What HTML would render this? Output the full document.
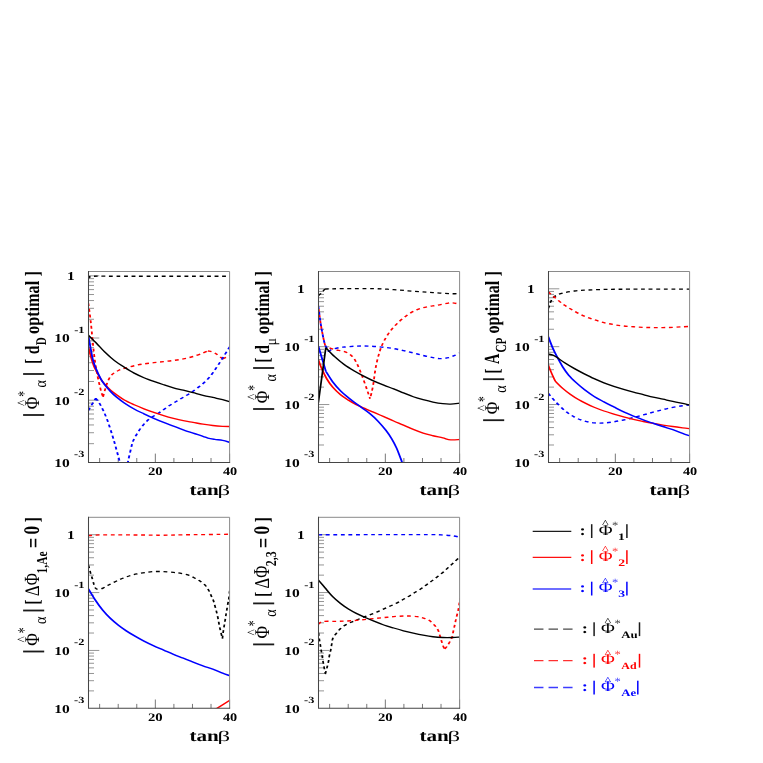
<!DOCTYPE html>
<html><head><meta charset="utf-8"><title>plot</title>
<style>html,body{margin:0;padding:0;background:#fff;}body{width:763px;height:763px;overflow:hidden;position:relative;font-family:"Liberation Serif",serif;}svg{display:block;text-rendering:geometricPrecision}</style>
</head><body>
<svg width="763" height="763" viewBox="0 0 763 763" style="position:absolute;left:0;top:0">
<rect x="0" y="0" width="763" height="763" fill="#ffffff"/>
<defs>
<clipPath id="cp1"><rect x="66.38" y="271.50" width="105.83" height="190.90"/></clipPath>
<clipPath id="cp2"><rect x="238.88" y="271.50" width="105.83" height="190.90"/></clipPath>
<clipPath id="cp3"><rect x="411.39" y="271.50" width="105.83" height="190.90"/></clipPath>
<clipPath id="cp4"><rect x="66.38" y="517.30" width="105.83" height="191.00"/></clipPath>
<clipPath id="cp5"><rect x="238.88" y="517.30" width="105.83" height="191.00"/></clipPath>
</defs>
<path d="M88.50 275.80h10.8M88.50 338.00h10.8M88.50 319.28h5.5M88.50 308.32h5.5M88.50 300.55h5.5M88.50 294.52h5.5M88.50 289.60h5.5M88.50 285.43h5.5M88.50 281.83h5.5M88.50 278.65h5.5M88.50 400.20h10.8M88.50 381.48h5.5M88.50 370.52h5.5M88.50 362.75h5.5M88.50 356.72h5.5M88.50 351.80h5.5M88.50 347.63h5.5M88.50 344.03h5.5M88.50 340.85h5.5M88.50 443.68h5.5M88.50 432.72h5.5M88.50 424.95h5.5M88.50 418.92h5.5M88.50 414.00h5.5M88.50 409.83h5.5M88.50 406.23h5.5M88.50 403.05h5.5" stroke="#959595" stroke-width="1" fill="none"/>
<path d="M99.64 462.40v-4.4M118.21 462.40v-4.4M136.77 462.40v-4.4M155.34 462.40v-8.8M173.90 462.40v-4.4M192.47 462.40v-4.4M211.03 462.40v-4.4M229.60 462.40v-8.8" stroke="#777" stroke-width="1" fill="none"/>
<g transform="scale(1.3333,1)" clip-path="url(#cp1)" fill="none" stroke-width="1.45" stroke-linejoin="round">
<path d="M66.26 278.22C66.45 278.03 66.87 277.37 67.44 277.04C68.00 276.72 65.35 276.39 69.65 276.26C73.95 276.13 76.11 276.26 93.24 276.26C110.37 276.26 159.22 276.26 172.42 276.26" stroke="#000000" stroke-width="1.30" stroke-dasharray="2.9 2.75"/>
<path d="M66.26 303.39C66.58 306.66 67.49 314.85 68.18 323.05C68.86 331.24 69.65 344.34 70.39 352.53C71.12 360.73 71.74 365.97 72.60 372.19C73.46 378.42 74.76 385.79 75.55 389.89C76.33 393.98 77.02 395.62 77.32 396.77M77.32 396.77C77.64 395.26 78.55 390.55 79.23 387.70C79.92 384.84 80.59 381.89 81.45 379.64C82.31 377.38 83.17 375.70 84.39 374.17C85.62 372.65 87.34 371.45 88.82 370.50C90.29 369.55 91.28 369.25 93.24 368.46C95.21 367.67 98.16 366.52 100.61 365.76C103.07 364.99 105.53 364.40 107.99 363.89C110.44 363.38 112.90 363.08 115.36 362.69C117.82 362.30 120.27 361.95 122.73 361.58C125.19 361.20 127.65 360.91 130.10 360.46C132.56 360.02 135.02 359.57 137.48 358.91C139.93 358.25 142.39 357.48 144.85 356.50C147.31 355.52 150.38 353.99 152.22 353.03C154.06 352.08 155.29 351.15 155.91 350.77M155.91 350.77C156.77 351.14 159.22 351.62 161.07 352.97C162.91 354.32 165.98 357.89 166.97 358.87M166.97 358.87L172.42 355.69" stroke="#ff0000" stroke-width="1.35" stroke-dasharray="2.9 2.75"/>
<path d="M66.26 410.40L71.86 398.21M71.86 398.21C72.48 399.42 74.20 402.14 75.55 405.48C76.90 408.83 78.50 413.18 79.97 418.26C81.45 423.34 83.17 430.71 84.39 435.96C85.62 441.20 86.48 445.62 87.34 449.72C88.20 453.81 88.94 457.25 89.55 460.53C90.17 463.81 90.78 467.90 91.03 469.38M95.01 469.38C95.21 467.90 95.62 464.13 96.19 460.53C96.76 456.93 97.79 451.03 98.40 447.75C99.02 444.47 99.02 443.49 99.88 440.87C100.74 438.25 102.21 434.81 103.56 432.02C104.91 429.24 106.51 426.39 107.99 424.16C109.46 421.93 110.44 420.62 112.41 418.66C114.38 416.69 117.32 414.56 119.78 412.36C122.24 410.17 124.70 407.61 127.15 405.48C129.61 403.35 132.07 401.55 134.53 399.59C136.98 397.62 139.44 395.82 141.90 393.69C144.36 391.56 146.81 389.43 149.27 386.81C151.73 384.19 154.19 381.73 156.64 377.96C159.10 374.19 161.39 369.44 164.02 364.20C166.65 358.96 171.02 349.45 172.42 346.51" stroke="#0000ff" stroke-width="1.42" stroke-dasharray="2.9 2.75"/>
<path d="M66.26 346.60C66.58 348.30 67.49 353.58 68.18 356.81C68.86 360.03 69.65 363.47 70.39 365.98C71.12 368.49 71.74 369.71 72.60 371.88C73.46 374.05 74.56 376.93 75.55 378.99C76.53 381.05 77.27 382.38 78.50 384.24C79.73 386.11 81.45 388.43 82.92 390.17C84.39 391.91 85.62 393.05 87.34 394.69C89.06 396.33 91.03 398.32 93.24 399.99C95.45 401.67 98.16 403.26 100.61 404.73C103.07 406.19 105.53 407.50 107.99 408.78C110.44 410.05 112.90 411.23 115.36 412.36C117.82 413.50 120.27 414.60 122.73 415.59C125.19 416.59 127.65 417.50 130.10 418.34C132.56 419.17 135.02 419.95 137.48 420.62C139.93 421.30 142.39 421.80 144.85 422.39C147.31 422.98 149.76 423.64 152.22 424.16C154.68 424.68 157.14 425.18 159.59 425.54C162.05 425.90 164.83 426.16 166.97 426.32C169.10 426.49 171.51 426.49 172.42 426.52" stroke="#ff0000" stroke-width="1.35"/>
<path d="M66.26 335.79C66.58 338.11 67.61 345.75 68.18 349.74C68.74 353.72 69.04 356.62 69.65 359.71C70.26 362.79 70.88 365.09 71.86 368.27C72.84 371.45 74.44 376.03 75.55 378.76C76.65 381.49 77.27 382.53 78.50 384.66C79.73 386.78 81.45 389.43 82.92 391.49C84.39 393.56 85.62 395.14 87.34 397.05C89.06 398.96 91.03 400.96 93.24 402.95C95.45 404.95 98.16 407.19 100.61 409.00C103.07 410.82 105.53 412.27 107.99 413.83C110.44 415.39 112.90 416.91 115.36 418.35C117.82 419.79 120.27 421.16 122.73 422.47C125.19 423.77 127.65 424.93 130.10 426.16C132.56 427.39 135.02 428.69 137.48 429.86C139.93 431.02 142.39 432.09 144.85 433.16C147.31 434.23 150.38 435.45 152.22 436.28C154.06 437.10 154.43 437.58 155.91 438.09C157.38 438.61 159.22 438.96 161.07 439.34C162.91 439.73 165.07 439.89 166.97 440.41C168.86 440.92 171.51 442.10 172.42 442.44" stroke="#0000ff" stroke-width="1.42"/>
<path d="M66.26 335.13C67.31 336.53 70.56 340.75 72.60 343.54C74.64 346.33 76.28 349.02 78.50 351.88C80.71 354.73 83.41 358.09 85.87 360.66C88.33 363.22 90.78 365.19 93.24 367.27C95.70 369.35 98.16 371.41 100.61 373.15C103.07 374.89 105.53 376.34 107.99 377.73C110.44 379.11 112.90 380.28 115.36 381.45C117.82 382.63 120.27 383.71 122.73 384.77C125.19 385.83 127.65 386.90 130.10 387.80C132.56 388.70 135.02 389.37 137.48 390.19C139.93 391.01 142.39 391.87 144.85 392.72C147.31 393.57 149.76 394.48 152.22 395.27C154.68 396.06 157.14 396.75 159.59 397.47C162.05 398.20 164.83 398.87 166.97 399.61C169.10 400.34 171.51 401.51 172.42 401.89" stroke="#000000" stroke-width="1.30"/>
</g>
<path d="M88.50 271.50H229.60V462.40" fill="none" stroke="#8a8a8a" stroke-width="1"/>
<path d="M88.50 271.50V462.40H229.60" fill="none" stroke="#454545" stroke-width="1.05" stroke-linecap="square"/>
<path d="M318.50 288.80h10.8M318.50 346.67h10.8M318.50 329.25h5.5M318.50 319.06h5.5M318.50 311.83h5.5M318.50 306.22h5.5M318.50 301.64h5.5M318.50 297.76h5.5M318.50 294.41h5.5M318.50 291.45h5.5M318.50 404.54h10.8M318.50 387.12h5.5M318.50 376.93h5.5M318.50 369.70h5.5M318.50 364.09h5.5M318.50 359.51h5.5M318.50 355.63h5.5M318.50 352.28h5.5M318.50 349.32h5.5M318.50 444.99h5.5M318.50 434.80h5.5M318.50 427.57h5.5M318.50 421.96h5.5M318.50 417.38h5.5M318.50 413.50h5.5M318.50 410.15h5.5M318.50 407.19h5.5" stroke="#959595" stroke-width="1" fill="none"/>
<path d="M329.64 462.40v-4.4M348.21 462.40v-4.4M366.77 462.40v-4.4M385.34 462.40v-8.8M403.90 462.40v-4.4M422.47 462.40v-4.4M441.03 462.40v-4.4M459.60 462.40v-8.8" stroke="#777" stroke-width="1" fill="none"/>
<g transform="scale(1.3333,1)" clip-path="url(#cp2)" fill="none" stroke-width="1.45" stroke-linejoin="round">
<path d="M238.76 295.52C239.20 295.03 240.61 293.66 241.42 292.57C242.23 291.49 243.26 289.63 243.63 289.04M243.63 289.04C246.09 288.97 252.23 288.71 258.37 288.64C264.52 288.58 274.35 288.48 280.49 288.64C286.63 288.81 290.32 289.20 295.24 289.63C300.15 290.05 305.06 290.71 309.98 291.20C314.89 291.69 319.81 292.15 324.72 292.57C329.64 293.00 336.10 293.69 339.47 293.75C342.84 293.82 344.02 293.10 344.93 292.97" stroke="#000000" stroke-width="1.30" stroke-dasharray="2.9 2.75"/>
<path d="M238.76 306.34C239.08 309.45 239.92 318.95 240.68 325.01C241.44 331.07 242.67 339.10 243.33 342.71C244.00 346.31 244.44 345.98 244.66 346.64M244.66 346.64C245.72 347.13 248.72 348.77 251.00 349.59C253.29 350.40 256.16 350.40 258.37 351.55C260.58 352.70 262.67 354.34 264.27 356.47C265.87 358.60 266.73 361.05 267.96 364.33C269.19 367.61 270.41 371.87 271.64 376.13C272.87 380.39 274.35 386.12 275.33 389.89C276.31 393.66 277.17 397.26 277.54 398.73M277.54 398.73C277.91 396.60 279.02 391.36 279.75 385.96C280.49 380.55 281.10 372.13 281.96 366.30C282.82 360.46 283.93 355.10 284.91 350.96C285.90 346.81 286.63 344.61 287.86 341.44C289.09 338.27 290.57 334.97 292.29 331.91C294.01 328.85 295.97 325.89 298.18 323.06C300.40 320.24 303.10 317.20 305.56 314.97C308.01 312.73 310.47 310.99 312.93 309.63C315.39 308.26 317.84 307.49 320.30 306.77C322.76 306.06 325.22 305.92 327.67 305.35C330.13 304.79 333.08 303.81 335.05 303.39C337.01 302.96 337.82 302.63 339.47 302.80C341.12 302.96 344.02 304.11 344.93 304.37" stroke="#ff0000" stroke-width="1.35" stroke-dasharray="2.9 2.75" stroke-dashoffset="2.83"/>
<path d="M238.76 306.34C239.08 309.45 239.92 318.95 240.68 325.01C241.44 331.07 242.60 338.84 243.33 342.71C244.07 346.57 244.56 346.70 245.10 348.21C245.64 349.72 246.33 351.16 246.58 351.75M246.58 351.75C246.82 351.45 247.31 350.50 248.05 349.98C248.79 349.45 249.70 349.05 251.00 348.60C252.30 348.16 254.64 347.59 255.87 347.33C257.10 347.06 256.73 347.21 258.37 347.03C260.02 346.85 263.29 346.41 265.75 346.24C268.20 346.08 270.66 346.01 273.12 346.05C275.58 346.08 278.03 346.24 280.49 346.44C282.95 346.64 285.41 346.87 287.86 347.23C290.32 347.59 292.78 348.05 295.24 348.60C297.69 349.16 300.15 349.85 302.61 350.57C305.06 351.29 307.52 352.11 309.98 352.93C312.44 353.75 314.89 354.70 317.35 355.48C319.81 356.27 322.51 357.12 324.72 357.65C326.94 358.17 328.66 358.63 330.62 358.63C332.59 358.63 334.80 358.17 336.52 357.65C338.24 357.12 339.54 356.27 340.94 355.48C342.34 354.70 344.26 353.35 344.93 352.93" stroke="#0000ff" stroke-width="1.42" stroke-dasharray="2.9 2.75"/>
<path d="M238.76 359.80C239.20 361.34 240.36 365.87 241.42 369.05C242.47 372.23 243.75 375.83 245.10 378.86C246.45 381.88 247.81 384.54 249.53 387.19C251.25 389.84 253.46 392.61 255.42 394.77C257.39 396.92 259.36 398.47 261.32 400.11C263.29 401.75 265.50 403.41 267.22 404.63C268.94 405.85 269.43 406.15 271.64 407.45C273.86 408.75 277.79 410.91 280.49 412.45C283.19 413.99 285.41 415.25 287.86 416.68C290.32 418.11 292.78 419.60 295.24 421.00C297.69 422.41 300.15 423.72 302.61 425.13C305.06 426.54 307.52 428.12 309.98 429.46C312.44 430.80 314.89 432.12 317.35 433.17C319.81 434.22 322.27 434.97 324.72 435.76C327.18 436.55 329.89 437.23 332.10 437.92C334.31 438.61 335.86 439.63 338.00 439.89C340.13 440.15 343.77 439.56 344.93 439.49" stroke="#ff0000" stroke-width="1.35"/>
<path d="M238.76 346.05L244.37 371.21M244.37 371.21C245.23 372.98 247.68 378.55 249.53 381.83C251.37 385.10 253.46 388.22 255.42 390.87C257.39 393.52 259.36 395.62 261.32 397.75C263.29 399.88 265.50 401.93 267.22 403.65C268.94 405.36 269.92 406.35 271.64 408.04C273.36 409.73 275.58 411.63 277.54 413.79C279.51 415.96 281.47 418.30 283.44 421.04C285.41 423.77 287.62 427.25 289.34 430.20C291.06 433.15 292.41 435.76 293.76 438.74C295.11 441.73 296.34 444.88 297.45 448.11C298.55 451.33 299.71 455.70 300.40 458.10C301.08 460.50 301.21 460.94 301.58 462.50C301.94 464.05 302.44 466.59 302.61 467.41" stroke="#0000ff" stroke-width="1.42"/>
<path d="M238.76 402.67L244.37 347.62M244.37 347.62C245.47 349.13 248.67 353.80 251.00 356.67C253.34 359.53 255.92 362.40 258.37 364.79C260.83 367.18 263.29 369.08 265.75 371.00C268.20 372.93 270.66 374.66 273.12 376.34C275.58 378.02 278.03 379.62 280.49 381.09C282.95 382.56 285.41 383.87 287.86 385.17C290.32 386.47 292.78 387.63 295.24 388.90C297.69 390.18 300.15 391.53 302.61 392.84C305.06 394.15 307.52 395.62 309.98 396.77C312.44 397.91 314.89 398.83 317.35 399.72C319.81 400.60 322.27 401.42 324.72 402.08C327.18 402.73 329.89 403.32 332.10 403.65C334.31 403.98 335.86 404.14 338.00 404.04C340.13 403.94 343.77 403.22 344.93 403.06" stroke="#000000" stroke-width="1.30"/>
</g>
<path d="M318.50 271.50H459.60V462.40" fill="none" stroke="#8a8a8a" stroke-width="1"/>
<path d="M318.50 271.50V462.40H459.60" fill="none" stroke="#454545" stroke-width="1.05" stroke-linecap="square"/>
<path d="M548.50 288.80h10.8M548.50 346.67h10.8M548.50 329.25h5.5M548.50 319.06h5.5M548.50 311.83h5.5M548.50 306.22h5.5M548.50 301.64h5.5M548.50 297.76h5.5M548.50 294.41h5.5M548.50 291.45h5.5M548.50 404.54h10.8M548.50 387.12h5.5M548.50 376.93h5.5M548.50 369.70h5.5M548.50 364.09h5.5M548.50 359.51h5.5M548.50 355.63h5.5M548.50 352.28h5.5M548.50 349.32h5.5M548.50 444.99h5.5M548.50 434.80h5.5M548.50 427.57h5.5M548.50 421.96h5.5M548.50 417.38h5.5M548.50 413.50h5.5M548.50 410.15h5.5M548.50 407.19h5.5" stroke="#959595" stroke-width="1" fill="none"/>
<path d="M559.64 462.40v-4.4M578.21 462.40v-4.4M596.77 462.40v-4.4M615.34 462.40v-8.8M633.90 462.40v-4.4M652.47 462.40v-4.4M671.03 462.40v-4.4M689.60 462.40v-8.8" stroke="#777" stroke-width="1" fill="none"/>
<g transform="scale(1.3333,1)" clip-path="url(#cp3)" fill="none" stroke-width="1.45" stroke-linejoin="round">
<path d="M411.27 308.30C411.71 306.83 412.86 301.65 413.92 299.45C414.98 297.26 416.01 296.28 417.61 295.13C419.20 293.98 421.29 293.26 423.51 292.57C425.72 291.89 428.42 291.39 430.88 291.00C433.33 290.61 434.56 290.48 438.25 290.21C441.94 289.95 448.08 289.59 452.99 289.43C457.91 289.26 457.00 289.30 467.74 289.23C478.48 289.17 509.15 289.07 517.43 289.04" stroke="#000000" stroke-width="1.30" stroke-dasharray="2.9 2.75"/>
<path d="M411.27 291.98C412.08 292.90 414.09 295.26 416.13 297.49C418.17 299.72 421.05 303.06 423.51 305.35C425.96 307.65 428.42 309.45 430.88 311.25C433.33 313.05 435.79 314.76 438.25 316.17C440.71 317.57 443.16 318.62 445.62 319.70C448.08 320.79 450.54 321.83 452.99 322.65C455.45 323.47 457.91 324.06 460.37 324.62C462.82 325.18 465.28 325.63 467.74 325.99C470.20 326.36 472.65 326.55 475.11 326.78C477.57 327.01 480.03 327.24 482.48 327.37C484.94 327.50 487.40 327.53 489.86 327.57C492.31 327.60 494.77 327.60 497.23 327.57C499.69 327.53 502.14 327.50 504.60 327.37C507.06 327.24 509.84 326.94 511.97 326.78C514.11 326.62 516.52 326.45 517.43 326.39" stroke="#ff0000" stroke-width="1.35" stroke-dasharray="2.9 2.75"/>
<path d="M411.27 393.49C412.08 394.74 414.09 398.20 416.13 401.02C418.17 403.83 421.05 407.69 423.51 410.37C425.96 413.06 428.42 415.36 430.88 417.12C433.33 418.88 435.79 419.97 438.25 420.93C440.71 421.89 443.16 422.52 445.62 422.87C448.08 423.22 450.54 423.22 452.99 423.04C455.45 422.86 457.91 422.32 460.37 421.80C462.82 421.29 465.28 420.66 467.74 419.96C470.20 419.25 472.65 418.42 475.11 417.58C477.57 416.75 480.03 415.85 482.48 414.95C484.94 414.06 487.40 413.09 489.86 412.20C492.31 411.30 494.77 410.39 497.23 409.58C499.69 408.78 502.14 407.99 504.60 407.36C507.06 406.73 509.84 406.20 511.97 405.79C514.11 405.38 516.52 405.05 517.43 404.90" stroke="#0000ff" stroke-width="1.42" stroke-dasharray="2.9 2.75"/>
<path d="M411.27 365.31C411.71 366.74 413.06 371.26 413.92 373.90C414.78 376.54 416.01 379.92 416.43 381.13M416.43 381.13C417.36 382.33 420.11 386.14 422.03 388.36C423.95 390.59 425.96 392.62 427.93 394.49C429.89 396.35 431.86 398.03 433.83 399.57C435.79 401.10 437.76 402.41 439.72 403.69C441.69 404.98 443.41 406.05 445.62 407.27C447.83 408.49 450.54 409.89 452.99 411.01C455.45 412.14 457.91 413.06 460.37 414.02C462.82 414.99 465.28 415.91 467.74 416.81C470.20 417.72 472.65 418.67 475.11 419.45C477.57 420.22 480.03 420.84 482.48 421.49C484.94 422.14 487.40 422.77 489.86 423.36C492.31 423.95 494.77 424.51 497.23 425.04C499.69 425.57 502.14 426.07 504.60 426.53C507.06 426.99 509.84 427.46 511.97 427.82C514.11 428.18 516.52 428.54 517.43 428.68" stroke="#ff0000" stroke-width="1.35"/>
<path d="M411.27 336.80C411.83 338.72 413.60 345.05 414.66 348.31C415.71 351.56 416.38 353.26 417.61 356.35C418.84 359.44 420.56 363.75 422.03 366.86C423.51 369.97 424.73 372.36 426.45 375.03C428.17 377.69 430.39 380.47 432.35 382.88C434.32 385.28 436.04 387.20 438.25 389.46C440.46 391.72 443.16 394.37 445.62 396.44C448.08 398.52 450.54 400.15 452.99 401.90C455.45 403.64 457.91 405.27 460.37 406.93C462.82 408.59 465.28 410.35 467.74 411.87C470.20 413.38 472.65 414.70 475.11 416.02C477.57 417.34 480.03 418.59 482.48 419.79C484.94 420.99 487.40 422.11 489.86 423.23C492.31 424.35 494.77 425.45 497.23 426.52C499.69 427.60 502.14 428.55 504.60 429.69C507.06 430.82 509.84 432.29 511.97 433.33C514.11 434.38 516.52 435.52 517.43 435.96" stroke="#0000ff" stroke-width="1.42"/>
<path d="M411.27 354.10C411.83 354.26 413.60 354.54 414.66 355.08C415.71 355.62 416.13 356.06 417.61 357.34C419.08 358.62 421.29 360.86 423.51 362.75C425.72 364.63 428.42 366.79 430.88 368.64C433.33 370.49 435.79 372.17 438.25 373.84C440.71 375.51 443.16 377.17 445.62 378.67C448.08 380.17 450.54 381.57 452.99 382.85C455.45 384.12 457.91 385.21 460.37 386.30C462.82 387.38 465.28 388.40 467.74 389.36C470.20 390.32 472.65 391.20 475.11 392.07C477.57 392.94 480.03 393.74 482.48 394.58C484.94 395.41 487.40 396.31 489.86 397.09C492.31 397.86 494.77 398.51 497.23 399.23C499.69 399.95 502.14 400.70 504.60 401.40C507.06 402.10 509.84 402.84 511.97 403.44C514.11 404.05 516.52 404.77 517.43 405.03" stroke="#000000" stroke-width="1.30"/>
</g>
<path d="M548.50 271.50H689.60V462.40" fill="none" stroke="#8a8a8a" stroke-width="1"/>
<path d="M548.50 271.50V462.40H689.60" fill="none" stroke="#454545" stroke-width="1.05" stroke-linecap="square"/>
<path d="M88.50 534.70h10.8M88.50 592.57h10.8M88.50 575.15h5.5M88.50 564.96h5.5M88.50 557.73h5.5M88.50 552.12h5.5M88.50 547.54h5.5M88.50 543.66h5.5M88.50 540.31h5.5M88.50 537.35h5.5M88.50 650.44h10.8M88.50 633.02h5.5M88.50 622.83h5.5M88.50 615.60h5.5M88.50 609.99h5.5M88.50 605.41h5.5M88.50 601.53h5.5M88.50 598.18h5.5M88.50 595.22h5.5M88.50 690.89h5.5M88.50 680.70h5.5M88.50 673.47h5.5M88.50 667.86h5.5M88.50 663.28h5.5M88.50 659.40h5.5M88.50 656.05h5.5M88.50 653.09h5.5" stroke="#959595" stroke-width="1" fill="none"/>
<path d="M99.64 708.30v-4.4M118.21 708.30v-4.4M136.77 708.30v-4.4M155.34 708.30v-8.8M173.90 708.30v-4.4M192.47 708.30v-4.4M211.03 708.30v-4.4M229.60 708.30v-8.8" stroke="#777" stroke-width="1" fill="none"/>
<g transform="scale(1.3333,1)" clip-path="url(#cp4)" fill="none" stroke-width="1.45" stroke-linejoin="round">
<path d="M66.26 535.63C68.30 535.49 71.54 534.94 78.50 534.84C85.45 534.74 100.61 534.97 107.99 535.04C115.36 535.10 117.82 535.26 122.73 535.23C127.65 535.20 129.19 535.00 137.48 534.84C145.76 534.67 166.60 534.35 172.42 534.25" stroke="#ff0000" stroke-width="1.35" stroke-dasharray="2.9 2.75"/>
<path d="M66.38 565.31C66.63 566.56 67.38 570.49 67.88 572.78C68.38 575.07 68.92 577.11 69.35 579.07C69.79 581.04 70.11 583.04 70.50 584.58C70.90 586.12 71.32 587.56 71.71 588.31C72.11 589.07 72.38 589.00 72.89 589.10C73.41 589.20 74.07 589.07 74.81 588.90C75.55 588.74 76.21 588.77 77.32 588.12C78.42 587.46 79.87 586.08 81.45 584.97C83.02 583.86 84.98 582.55 86.75 581.43C88.52 580.32 90.29 579.24 92.06 578.29C93.83 577.34 95.60 576.45 97.37 575.73C99.14 575.01 100.81 574.48 102.68 573.96C104.55 573.44 106.46 572.98 108.58 572.58C110.69 572.19 113.00 571.77 115.36 571.60C117.72 571.44 120.27 571.47 122.73 571.60C125.19 571.73 128.06 572.13 130.10 572.39C132.14 572.65 133.18 572.75 134.97 573.17C136.76 573.60 139.10 574.19 140.87 574.94C142.64 575.70 144.11 576.71 145.59 577.70C147.06 578.68 148.34 579.60 149.71 580.84C151.09 582.09 152.71 583.59 153.84 585.17C154.97 586.74 155.71 588.44 156.50 590.28C157.28 592.11 157.97 594.47 158.56 596.18C159.15 597.88 159.57 598.76 160.04 600.50C160.50 602.24 160.92 604.47 161.36 606.60C161.80 608.72 162.30 611.08 162.69 613.28C163.08 615.47 163.40 617.60 163.72 619.77C164.04 621.93 164.29 624.19 164.61 626.25C164.93 628.32 165.27 630.09 165.64 632.15C166.01 634.22 166.62 637.56 166.82 638.64M166.82 638.64C166.90 637.66 167.12 634.81 167.33 632.74C167.55 630.68 167.84 628.32 168.09 626.25C168.34 624.19 168.60 622.32 168.84 620.36C169.08 618.39 169.28 616.42 169.52 614.46C169.75 612.49 170.02 610.49 170.27 608.56C170.52 606.63 170.79 604.30 171.01 602.86C171.22 601.42 171.35 601.68 171.54 599.91C171.72 598.14 171.95 594.11 172.13 592.24C172.30 590.38 172.49 589.29 172.57 588.71" stroke="#000000" stroke-width="1.30" stroke-dasharray="2.9 2.75"/>
<path d="M66.26 588.71C67.07 590.48 69.33 595.76 71.12 599.33C72.92 602.90 75.06 606.91 77.02 610.12C78.99 613.32 80.95 616.04 82.92 618.56C84.89 621.08 86.85 623.20 88.82 625.24C90.78 627.29 92.75 629.11 94.72 630.85C96.68 632.59 98.40 633.95 100.61 635.67C102.83 637.39 105.53 639.48 107.99 641.19C110.44 642.89 112.90 644.41 115.36 645.89C117.82 647.38 120.27 648.69 122.73 650.10C125.19 651.52 127.65 653.03 130.10 654.38C132.56 655.73 135.02 656.88 137.48 658.18C139.93 659.48 142.39 660.90 144.85 662.17C147.31 663.44 149.76 664.66 152.22 665.81C154.68 666.97 157.14 667.89 159.59 669.09C162.05 670.29 164.83 671.91 166.97 673.02C169.10 674.13 171.51 675.31 172.42 675.77" stroke="#0000ff" stroke-width="1.42"/>
<path d="M160.33 710.46C160.70 710.13 160.53 710.20 162.54 708.50C164.56 706.79 170.77 701.61 172.42 700.24" stroke="#ff0000" stroke-width="1.35"/>
</g>
<path d="M88.50 517.30H229.60V708.30" fill="none" stroke="#8a8a8a" stroke-width="1"/>
<path d="M88.50 517.30V708.30H229.60" fill="none" stroke="#454545" stroke-width="1.05" stroke-linecap="square"/>
<path d="M318.50 534.70h10.8M318.50 592.57h10.8M318.50 575.15h5.5M318.50 564.96h5.5M318.50 557.73h5.5M318.50 552.12h5.5M318.50 547.54h5.5M318.50 543.66h5.5M318.50 540.31h5.5M318.50 537.35h5.5M318.50 650.44h10.8M318.50 633.02h5.5M318.50 622.83h5.5M318.50 615.60h5.5M318.50 609.99h5.5M318.50 605.41h5.5M318.50 601.53h5.5M318.50 598.18h5.5M318.50 595.22h5.5M318.50 690.89h5.5M318.50 680.70h5.5M318.50 673.47h5.5M318.50 667.86h5.5M318.50 663.28h5.5M318.50 659.40h5.5M318.50 656.05h5.5M318.50 653.09h5.5" stroke="#959595" stroke-width="1" fill="none"/>
<path d="M329.64 708.30v-4.4M348.21 708.30v-4.4M366.77 708.30v-4.4M385.34 708.30v-8.8M403.90 708.30v-4.4M422.47 708.30v-4.4M441.03 708.30v-4.4M459.60 708.30v-8.8" stroke="#777" stroke-width="1" fill="none"/>
<g transform="scale(1.3333,1)" clip-path="url(#cp5)" fill="none" stroke-width="1.45" stroke-linejoin="round">
<path d="M238.76 534.84C245.72 534.81 266.16 534.67 280.49 534.64C294.82 534.61 316.12 534.58 324.72 534.64C333.33 534.71 329.64 534.84 332.10 535.04C334.55 535.23 337.33 535.46 339.47 535.82C341.61 536.18 344.02 536.97 344.93 537.20" stroke="#0000ff" stroke-width="1.42" stroke-dasharray="2.9 2.75"/>
<path d="M238.88 632.81C238.98 633.84 239.26 636.98 239.49 639.00C239.71 641.02 240.00 642.98 240.24 644.90C240.47 646.81 240.66 648.65 240.90 650.50C241.14 652.35 241.41 654.10 241.65 656.01C241.89 657.91 242.08 659.94 242.33 661.90C242.58 663.87 242.88 665.78 243.16 667.80C243.43 669.82 243.84 672.98 243.98 674.01M243.98 674.01C244.21 672.88 244.94 669.33 245.34 667.21C245.74 665.09 246.10 663.23 246.39 661.31C246.67 659.40 246.79 657.58 247.06 655.71C247.34 653.84 247.75 652.02 248.04 650.11C248.32 648.19 248.52 646.18 248.79 644.21C249.06 642.24 249.10 640.11 249.67 638.31C250.25 636.51 251.28 635.04 252.24 633.40C253.20 631.76 254.23 629.95 255.45 628.48C256.68 627.02 258.07 625.76 259.58 624.61C261.10 623.46 263.22 622.37 264.54 621.60C265.85 620.83 265.93 620.84 267.46 620.01C268.98 619.18 271.55 617.71 273.68 616.62C275.80 615.53 278.13 614.59 280.20 613.48C282.26 612.36 284.13 611.12 286.09 609.94C288.06 608.76 290.03 607.58 291.99 606.40C293.96 605.22 296.07 604.09 297.89 602.86C299.71 601.63 301.30 600.25 302.93 599.01C304.56 597.76 306.09 596.64 307.66 595.39C309.24 594.14 310.81 592.79 312.38 591.50C313.96 590.20 315.74 588.86 317.12 587.60C318.49 586.35 319.36 585.24 320.64 583.99C321.92 582.74 323.40 581.46 324.77 580.09C326.14 578.73 327.51 577.24 328.88 575.81C330.26 574.38 331.72 572.96 333.01 571.50C334.30 570.05 335.32 568.66 336.61 567.08C337.90 565.50 339.46 563.57 340.74 562.01C342.01 560.44 343.49 558.66 344.26 557.70C345.03 556.75 345.18 556.51 345.37 556.27" stroke="#000000" stroke-width="1.30" stroke-dasharray="2.9 2.75"/>
<path d="M238.76 624.09C239.33 623.67 240.11 621.99 242.15 621.54C244.19 621.08 248.30 621.40 251.00 621.34C253.70 621.27 255.92 621.27 258.37 621.14C260.83 621.01 263.29 620.82 265.75 620.55C268.20 620.29 270.66 619.90 273.12 619.57C275.58 619.24 278.03 618.91 280.49 618.59C282.95 618.26 285.41 617.93 287.86 617.60C290.32 617.28 292.78 616.88 295.24 616.62C297.69 616.36 300.64 616.13 302.61 616.03C304.57 615.93 305.31 615.93 307.03 616.03C308.75 616.13 311.44 616.39 312.93 616.62C314.42 616.85 315.00 617.08 315.98 617.41C316.96 617.74 317.84 618.11 318.83 618.59C319.81 619.07 320.74 619.19 321.91 620.30C323.07 621.40 324.71 623.58 325.82 625.21C326.92 626.85 327.81 628.31 328.51 630.11C329.21 631.91 329.57 634.14 330.02 636.01C330.47 637.87 330.80 639.56 331.21 641.31C331.63 643.06 332.11 645.25 332.50 646.50C332.88 647.76 333.33 648.47 333.50 648.86M333.50 648.86C333.78 648.47 334.59 647.59 335.19 646.50C335.80 645.41 336.49 643.90 337.14 642.32C337.79 640.73 338.60 638.92 339.09 637.01C339.57 635.09 339.73 632.78 340.06 630.82C340.39 628.85 340.72 627.18 341.05 625.21C341.37 623.24 341.68 620.97 342.02 619.00C342.36 617.03 342.73 615.25 343.07 613.40C343.40 611.55 343.80 609.54 344.04 607.91C344.28 606.28 344.33 605.17 344.50 603.61C344.67 602.04 344.98 599.38 345.07 598.53" stroke="#ff0000" stroke-width="1.35" stroke-dasharray="2.9 2.75"/>
<path d="M238.76 580.04C239.57 581.30 241.83 584.80 243.63 587.57C245.42 590.34 247.56 593.99 249.53 596.64C251.49 599.30 253.46 601.46 255.42 603.53C257.39 605.59 259.36 607.39 261.32 609.03C263.29 610.67 265.25 612.05 267.22 613.37C269.19 614.70 270.91 615.67 273.12 616.97C275.33 618.28 278.03 619.86 280.49 621.19C282.95 622.53 285.41 623.86 287.86 624.99C290.32 626.13 292.78 627.05 295.24 628.01C297.69 628.97 300.15 629.92 302.61 630.77C305.06 631.61 307.52 632.36 309.98 633.09C312.44 633.82 314.89 634.53 317.35 635.15C319.81 635.76 322.27 636.36 324.72 636.76C327.18 637.16 329.64 637.40 332.10 637.52C334.55 637.65 337.33 637.59 339.47 637.51C341.61 637.44 344.02 637.14 344.93 637.07" stroke="#000000" stroke-width="1.30"/>
</g>
<path d="M318.50 517.30H459.60V708.30" fill="none" stroke="#8a8a8a" stroke-width="1"/>
<path d="M318.50 517.30V708.30H459.60" fill="none" stroke="#454545" stroke-width="1.05" stroke-linecap="square"/>
<path d="M532.7 531.4H571.3" stroke="#1c1c1c" stroke-width="1.2" fill="none"/>
<path d="M532.7 557.4H571.3" stroke="#ff1010" stroke-width="1.2" fill="none"/>
<path d="M532.7 588.9H571.2" stroke="#6e6eff" stroke-width="2" fill="none"/>
<path d="M534 629.2H572.6" stroke="#4a4a4a" stroke-width="1.3" stroke-dasharray="9.45 5.1" fill="none"/>
<path d="M534 660.6H572.6" stroke="#ff3030" stroke-width="1.3" stroke-dasharray="9.45 5.1" fill="none"/>
<path d="M534 687.5H572.6" stroke="#3c3cff" stroke-width="1.3" stroke-dasharray="9.45 5.1" fill="none"/>
<g opacity="0.996">
<rect x="23.10" y="414.10" width="21.10" height="1.80" fill="#1a1a1a"/>
<rect x="23.10" y="373.10" width="21.10" height="1.80" fill="#1a1a1a"/>
<rect x="253.10" y="408.10" width="21.10" height="1.80" fill="#1a1a1a"/>
<rect x="253.10" y="367.10" width="21.10" height="1.80" fill="#1a1a1a"/>
<rect x="483.10" y="419.30" width="21.10" height="1.80" fill="#1a1a1a"/>
<rect x="483.10" y="378.30" width="21.10" height="1.80" fill="#1a1a1a"/>
<rect x="23.10" y="650.60" width="21.10" height="1.80" fill="#1a1a1a"/>
<rect x="23.10" y="609.60" width="21.10" height="1.80" fill="#1a1a1a"/>
<rect x="253.10" y="643.50" width="21.10" height="1.80" fill="#1a1a1a"/>
<rect x="253.10" y="602.50" width="21.10" height="1.80" fill="#1a1a1a"/>
<rect x="590.95" y="524.20" width="1.50" height="13.80" fill="#1a1a1a"/>
<rect x="626.15" y="524.20" width="1.50" height="13.80" fill="#1a1a1a"/>
<rect x="590.95" y="550.20" width="1.50" height="13.80" fill="#ff0000"/>
<rect x="626.15" y="550.20" width="1.50" height="13.80" fill="#ff0000"/>
<rect x="590.95" y="581.70" width="1.50" height="13.80" fill="#0000ff"/>
<rect x="626.15" y="581.70" width="1.50" height="13.80" fill="#0000ff"/>
<rect x="593.35" y="622.30" width="1.50" height="13.80" fill="#1a1a1a"/>
<rect x="638.75" y="622.30" width="1.50" height="13.80" fill="#1a1a1a"/>
<rect x="593.35" y="653.80" width="1.50" height="13.80" fill="#ff0000"/>
<rect x="638.75" y="653.80" width="1.50" height="13.80" fill="#ff0000"/>
<rect x="593.35" y="680.70" width="1.50" height="13.80" fill="#0000ff"/>
<rect x="637.05" y="680.70" width="1.50" height="13.80" fill="#0000ff"/>
<text transform="translate(66.99,280.13) scale(1.290,1)" font-family="Liberation Serif" font-weight="bold" font-size="12.00" fill="#000">1</text>
<text transform="translate(54.20,342.31) scale(1.290,1)" font-family="Liberation Serif" font-weight="bold" font-size="12.00" fill="#000">10</text>
<text transform="translate(74.20,333.04) scale(1.300,1)" font-family="Liberation Serif" font-weight="bold" font-size="9.50" fill="#000">-1</text>
<text transform="translate(54.20,404.51) scale(1.290,1)" font-family="Liberation Serif" font-weight="bold" font-size="12.00" fill="#000">10</text>
<text transform="translate(74.11,395.24) scale(1.300,1)" font-family="Liberation Serif" font-weight="bold" font-size="9.50" fill="#000">-2</text>
<text transform="translate(54.20,466.71) scale(1.290,1)" font-family="Liberation Serif" font-weight="bold" font-size="12.00" fill="#000">10</text>
<text transform="translate(74.11,457.37) scale(1.300,1)" font-family="Liberation Serif" font-weight="bold" font-size="9.50" fill="#000">-3</text>
<text transform="translate(147.88,475.42) scale(1.281,1)" font-family="Liberation Serif" font-weight="bold" font-size="11.49" fill="#000">20</text>
<text transform="translate(223.00,475.42) scale(1.240,1)" font-family="Liberation Serif" font-weight="bold" font-size="11.49" fill="#000">40</text>
<text transform="translate(189.47,494.95) scale(1.306,1)" font-family="Liberation Serif" font-weight="bold" font-size="16.17" fill="#000">tan</text>
<text transform="translate(217.45,494.80) scale(1.701,1)" font-family="Liberation Serif" font-weight="normal" font-size="14.61" fill="#000">β</text>
<text transform="translate(296.99,293.13) scale(1.290,1)" font-family="Liberation Serif" font-weight="bold" font-size="12.00" fill="#000">1</text>
<text transform="translate(284.20,350.98) scale(1.290,1)" font-family="Liberation Serif" font-weight="bold" font-size="12.00" fill="#000">10</text>
<text transform="translate(304.20,341.71) scale(1.300,1)" font-family="Liberation Serif" font-weight="bold" font-size="9.50" fill="#000">-1</text>
<text transform="translate(284.20,408.85) scale(1.290,1)" font-family="Liberation Serif" font-weight="bold" font-size="12.00" fill="#000">10</text>
<text transform="translate(304.11,399.58) scale(1.300,1)" font-family="Liberation Serif" font-weight="bold" font-size="9.50" fill="#000">-2</text>
<text transform="translate(284.20,466.72) scale(1.290,1)" font-family="Liberation Serif" font-weight="bold" font-size="12.00" fill="#000">10</text>
<text transform="translate(304.11,457.38) scale(1.300,1)" font-family="Liberation Serif" font-weight="bold" font-size="9.50" fill="#000">-3</text>
<text transform="translate(377.88,475.42) scale(1.281,1)" font-family="Liberation Serif" font-weight="bold" font-size="11.49" fill="#000">20</text>
<text transform="translate(453.00,475.42) scale(1.240,1)" font-family="Liberation Serif" font-weight="bold" font-size="11.49" fill="#000">40</text>
<text transform="translate(419.47,494.95) scale(1.306,1)" font-family="Liberation Serif" font-weight="bold" font-size="16.17" fill="#000">tan</text>
<text transform="translate(447.45,494.80) scale(1.701,1)" font-family="Liberation Serif" font-weight="normal" font-size="14.61" fill="#000">β</text>
<text transform="translate(526.99,293.13) scale(1.290,1)" font-family="Liberation Serif" font-weight="bold" font-size="12.00" fill="#000">1</text>
<text transform="translate(514.20,350.98) scale(1.290,1)" font-family="Liberation Serif" font-weight="bold" font-size="12.00" fill="#000">10</text>
<text transform="translate(534.20,341.71) scale(1.300,1)" font-family="Liberation Serif" font-weight="bold" font-size="9.50" fill="#000">-1</text>
<text transform="translate(514.20,408.85) scale(1.290,1)" font-family="Liberation Serif" font-weight="bold" font-size="12.00" fill="#000">10</text>
<text transform="translate(534.11,399.58) scale(1.300,1)" font-family="Liberation Serif" font-weight="bold" font-size="9.50" fill="#000">-2</text>
<text transform="translate(514.20,466.72) scale(1.290,1)" font-family="Liberation Serif" font-weight="bold" font-size="12.00" fill="#000">10</text>
<text transform="translate(534.11,457.38) scale(1.300,1)" font-family="Liberation Serif" font-weight="bold" font-size="9.50" fill="#000">-3</text>
<text transform="translate(607.88,475.42) scale(1.281,1)" font-family="Liberation Serif" font-weight="bold" font-size="11.49" fill="#000">20</text>
<text transform="translate(683.00,475.42) scale(1.240,1)" font-family="Liberation Serif" font-weight="bold" font-size="11.49" fill="#000">40</text>
<text transform="translate(649.47,494.95) scale(1.306,1)" font-family="Liberation Serif" font-weight="bold" font-size="16.17" fill="#000">tan</text>
<text transform="translate(677.45,494.80) scale(1.701,1)" font-family="Liberation Serif" font-weight="normal" font-size="14.61" fill="#000">β</text>
<text transform="translate(66.99,539.03) scale(1.290,1)" font-family="Liberation Serif" font-weight="bold" font-size="12.00" fill="#000">1</text>
<text transform="translate(54.20,596.88) scale(1.290,1)" font-family="Liberation Serif" font-weight="bold" font-size="12.00" fill="#000">10</text>
<text transform="translate(74.20,587.61) scale(1.300,1)" font-family="Liberation Serif" font-weight="bold" font-size="9.50" fill="#000">-1</text>
<text transform="translate(54.20,654.75) scale(1.290,1)" font-family="Liberation Serif" font-weight="bold" font-size="12.00" fill="#000">10</text>
<text transform="translate(74.11,645.48) scale(1.300,1)" font-family="Liberation Serif" font-weight="bold" font-size="9.50" fill="#000">-2</text>
<text transform="translate(54.20,712.62) scale(1.290,1)" font-family="Liberation Serif" font-weight="bold" font-size="12.00" fill="#000">10</text>
<text transform="translate(74.11,703.28) scale(1.300,1)" font-family="Liberation Serif" font-weight="bold" font-size="9.50" fill="#000">-3</text>
<text transform="translate(147.88,721.32) scale(1.281,1)" font-family="Liberation Serif" font-weight="bold" font-size="11.49" fill="#000">20</text>
<text transform="translate(223.00,721.32) scale(1.240,1)" font-family="Liberation Serif" font-weight="bold" font-size="11.49" fill="#000">40</text>
<text transform="translate(189.47,740.85) scale(1.306,1)" font-family="Liberation Serif" font-weight="bold" font-size="16.17" fill="#000">tan</text>
<text transform="translate(217.45,740.70) scale(1.701,1)" font-family="Liberation Serif" font-weight="normal" font-size="14.61" fill="#000">β</text>
<text transform="translate(296.99,539.03) scale(1.290,1)" font-family="Liberation Serif" font-weight="bold" font-size="12.00" fill="#000">1</text>
<text transform="translate(284.20,596.88) scale(1.290,1)" font-family="Liberation Serif" font-weight="bold" font-size="12.00" fill="#000">10</text>
<text transform="translate(304.20,587.61) scale(1.300,1)" font-family="Liberation Serif" font-weight="bold" font-size="9.50" fill="#000">-1</text>
<text transform="translate(284.20,654.75) scale(1.290,1)" font-family="Liberation Serif" font-weight="bold" font-size="12.00" fill="#000">10</text>
<text transform="translate(304.11,645.48) scale(1.300,1)" font-family="Liberation Serif" font-weight="bold" font-size="9.50" fill="#000">-2</text>
<text transform="translate(284.20,712.62) scale(1.290,1)" font-family="Liberation Serif" font-weight="bold" font-size="12.00" fill="#000">10</text>
<text transform="translate(304.11,703.28) scale(1.300,1)" font-family="Liberation Serif" font-weight="bold" font-size="9.50" fill="#000">-3</text>
<text transform="translate(377.88,721.32) scale(1.281,1)" font-family="Liberation Serif" font-weight="bold" font-size="11.49" fill="#000">20</text>
<text transform="translate(453.00,721.32) scale(1.240,1)" font-family="Liberation Serif" font-weight="bold" font-size="11.49" fill="#000">40</text>
<text transform="translate(419.47,740.85) scale(1.306,1)" font-family="Liberation Serif" font-weight="bold" font-size="16.17" fill="#000">tan</text>
<text transform="translate(447.45,740.70) scale(1.701,1)" font-family="Liberation Serif" font-weight="normal" font-size="14.61" fill="#000">β</text>
<text transform="translate(38.80,409.17) scale(1.216,1) rotate(-90)" font-family="Liberation Serif" font-weight="normal" font-size="17.16" fill="#000">Φ</text>
<text transform="translate(27.42,406.00) scale(1.079,1) rotate(-90)" font-family="Liberation Serif" font-weight="normal" font-size="13.44" fill="#000">^</text>
<text transform="translate(30.28,396.84) scale(1.590,1) rotate(-90)" font-family="Liberation Serif" font-weight="normal" font-size="11.57" fill="#000">*</text>
<text transform="translate(46.14,387.45) scale(1.179,1) rotate(-90)" font-family="Liberation Serif" font-weight="normal" font-size="14.25" fill="#000">α</text>
<text transform="translate(39.15,364.05) scale(1.300,1) rotate(-90)" font-family="Liberation Serif" font-weight="bold" font-size="15.60" fill="#000">[</text>
<text transform="translate(39.02,354.16) scale(1.300,1) rotate(-90)" font-family="Liberation Serif" font-weight="bold" font-size="15.60" fill="#000">d</text>
<text transform="translate(45.67,345.27) scale(1.333,1) rotate(-90)" font-family="Liberation Serif" font-weight="bold" font-size="11.16" fill="#000">D</text>
<text transform="translate(38.99,333.91) scale(1.245,1) rotate(-90)" font-family="Liberation Serif" font-weight="bold" font-size="16.20" fill="#000">optimal</text>
<text transform="translate(39.15,276.22) scale(1.300,1) rotate(-90)" font-family="Liberation Serif" font-weight="bold" font-size="15.60" fill="#000">]</text>
<text transform="translate(268.80,403.17) scale(1.216,1) rotate(-90)" font-family="Liberation Serif" font-weight="normal" font-size="17.16" fill="#000">Φ</text>
<text transform="translate(257.42,400.00) scale(1.079,1) rotate(-90)" font-family="Liberation Serif" font-weight="normal" font-size="13.44" fill="#000">^</text>
<text transform="translate(260.27,390.84) scale(1.590,1) rotate(-90)" font-family="Liberation Serif" font-weight="normal" font-size="11.57" fill="#000">*</text>
<text transform="translate(276.14,381.45) scale(1.179,1) rotate(-90)" font-family="Liberation Serif" font-weight="normal" font-size="14.25" fill="#000">α</text>
<text transform="translate(269.15,362.80) scale(1.300,1) rotate(-90)" font-family="Liberation Serif" font-weight="bold" font-size="15.60" fill="#000">[</text>
<text transform="translate(269.02,353.71) scale(1.300,1) rotate(-90)" font-family="Liberation Serif" font-weight="bold" font-size="15.60" fill="#000">d</text>
<text transform="translate(275.53,345.39) scale(1.102,1) rotate(-90)" font-family="Liberation Serif" font-weight="normal" font-size="13.99" fill="#000">μ</text>
<text transform="translate(268.99,333.91) scale(1.245,1) rotate(-90)" font-family="Liberation Serif" font-weight="bold" font-size="16.20" fill="#000">optimal</text>
<text transform="translate(269.15,276.22) scale(1.300,1) rotate(-90)" font-family="Liberation Serif" font-weight="bold" font-size="15.60" fill="#000">]</text>
<text transform="translate(498.80,414.37) scale(1.216,1) rotate(-90)" font-family="Liberation Serif" font-weight="normal" font-size="17.16" fill="#000">Φ</text>
<text transform="translate(487.42,411.20) scale(1.079,1) rotate(-90)" font-family="Liberation Serif" font-weight="normal" font-size="13.44" fill="#000">^</text>
<text transform="translate(490.28,402.04) scale(1.590,1) rotate(-90)" font-family="Liberation Serif" font-weight="normal" font-size="11.57" fill="#000">*</text>
<text transform="translate(506.14,392.65) scale(1.179,1) rotate(-90)" font-family="Liberation Serif" font-weight="normal" font-size="14.25" fill="#000">α</text>
<text transform="translate(498.70,373.80) scale(1.300,1) rotate(-90)" font-family="Liberation Serif" font-weight="bold" font-size="15.60" fill="#000">[</text>
<text transform="translate(498.70,363.90) scale(1.521,1) rotate(-90)" font-family="Liberation Serif" font-weight="bold" font-size="14.19" fill="#000">A</text>
<text transform="translate(505.56,352.62) scale(1.388,1) rotate(-90)" font-family="Liberation Serif" font-weight="bold" font-size="11.11" fill="#000">CP</text>
<text transform="translate(498.99,333.50) scale(1.255,1) rotate(-90)" font-family="Liberation Serif" font-weight="bold" font-size="16.08" fill="#000">optimal</text>
<text transform="translate(499.15,276.22) scale(1.300,1) rotate(-90)" font-family="Liberation Serif" font-weight="bold" font-size="15.60" fill="#000">]</text>
<text transform="translate(38.80,645.67) scale(1.216,1) rotate(-90)" font-family="Liberation Serif" font-weight="normal" font-size="17.16" fill="#000">Φ</text>
<text transform="translate(27.42,642.50) scale(1.079,1) rotate(-90)" font-family="Liberation Serif" font-weight="normal" font-size="13.44" fill="#000">^</text>
<text transform="translate(30.28,633.34) scale(1.590,1) rotate(-90)" font-family="Liberation Serif" font-weight="normal" font-size="11.57" fill="#000">*</text>
<text transform="translate(46.14,623.95) scale(1.179,1) rotate(-90)" font-family="Liberation Serif" font-weight="normal" font-size="14.25" fill="#000">α</text>
<text transform="translate(39.20,604.80) scale(1.300,1) rotate(-90)" font-family="Liberation Serif" font-weight="bold" font-size="15.60" fill="#000">[</text>
<text transform="translate(39.10,596.23) scale(1.212,1) rotate(-90)" font-family="Liberation Serif" font-weight="normal" font-size="16.95" fill="#000">Δ</text>
<text transform="translate(39.10,585.36) scale(1.305,1) rotate(-90)" font-family="Liberation Serif" font-weight="normal" font-size="16.58" fill="#000">Φ</text>
<text transform="translate(46.52,573.39) scale(1.328,1) rotate(-90)" font-family="Liberation Serif" font-weight="bold" font-size="11.45" fill="#000">1,Ae</text>
<text transform="translate(41.40,548.26) scale(1.279,1) rotate(-90)" font-family="Liberation Serif" font-weight="bold" font-size="18.35" fill="#000">=</text>
<text transform="translate(39.25,534.44) scale(1.307,1) rotate(-90)" font-family="Liberation Serif" font-weight="bold" font-size="17.14" fill="#000">0</text>
<text transform="translate(39.10,522.17) scale(1.300,1) rotate(-90)" font-family="Liberation Serif" font-weight="bold" font-size="15.60" fill="#000">]</text>
<text transform="translate(268.80,638.57) scale(1.216,1) rotate(-90)" font-family="Liberation Serif" font-weight="normal" font-size="17.16" fill="#000">Φ</text>
<text transform="translate(257.42,635.40) scale(1.079,1) rotate(-90)" font-family="Liberation Serif" font-weight="normal" font-size="13.44" fill="#000">^</text>
<text transform="translate(260.27,626.24) scale(1.590,1) rotate(-90)" font-family="Liberation Serif" font-weight="normal" font-size="11.57" fill="#000">*</text>
<text transform="translate(276.14,616.85) scale(1.179,1) rotate(-90)" font-family="Liberation Serif" font-weight="normal" font-size="14.25" fill="#000">α</text>
<text transform="translate(268.85,596.95) scale(1.300,1) rotate(-90)" font-family="Liberation Serif" font-weight="bold" font-size="15.60" fill="#000">[</text>
<text transform="translate(269.10,588.41) scale(1.286,1) rotate(-90)" font-family="Liberation Serif" font-weight="normal" font-size="16.43" fill="#000">Δ</text>
<text transform="translate(269.10,577.86) scale(1.369,1) rotate(-90)" font-family="Liberation Serif" font-weight="normal" font-size="16.58" fill="#000">Φ</text>
<text transform="translate(276.12,566.17) scale(1.281,1) rotate(-90)" font-family="Liberation Serif" font-weight="bold" font-size="11.87" fill="#000">2,3</text>
<text transform="translate(271.40,548.26) scale(1.279,1) rotate(-90)" font-family="Liberation Serif" font-weight="bold" font-size="18.35" fill="#000">=</text>
<text transform="translate(269.25,534.44) scale(1.307,1) rotate(-90)" font-family="Liberation Serif" font-weight="bold" font-size="17.14" fill="#000">0</text>
<text transform="translate(269.10,522.17) scale(1.300,1) rotate(-90)" font-family="Liberation Serif" font-weight="bold" font-size="15.60" fill="#000">]</text>
<text transform="translate(579.45,534.77) scale(1.270,1)" font-family="Liberation Serif" font-weight="bold" font-size="14.66" fill="#000">:</text>
<text transform="translate(598.70,534.80) scale(1.266,1)" font-family="Liberation Serif" font-weight="normal" font-size="14.93" fill="#000">Φ</text>
<text transform="translate(602.10,527.04) scale(1.314,1)" font-family="Liberation Serif" font-weight="normal" font-size="10.88" fill="#000">^</text>
<text transform="translate(612.01,528.75) scale(1.121,1)" font-family="Liberation Serif" font-weight="normal" font-size="11.20" fill="#000" fill-opacity="0.80">*</text>
<text transform="translate(617.94,539.50) scale(1.364,1)" font-family="Liberation Serif" font-weight="bold" font-size="9.97" fill="#000">1</text>
<text transform="translate(579.45,560.77) scale(1.270,1)" font-family="Liberation Serif" font-weight="bold" font-size="14.66" fill="#ff0000">:</text>
<text transform="translate(598.70,560.80) scale(1.266,1)" font-family="Liberation Serif" font-weight="normal" font-size="14.93" fill="#ff0000">Φ</text>
<text transform="translate(602.10,553.04) scale(1.314,1)" font-family="Liberation Serif" font-weight="normal" font-size="10.88" fill="#ff0000">^</text>
<text transform="translate(612.01,554.75) scale(1.121,1)" font-family="Liberation Serif" font-weight="normal" font-size="11.20" fill="#ff0000" fill-opacity="0.80">*</text>
<text transform="translate(618.17,565.50) scale(1.375,1)" font-family="Liberation Serif" font-weight="bold" font-size="9.97" fill="#ff0000">2</text>
<text transform="translate(579.45,592.27) scale(1.270,1)" font-family="Liberation Serif" font-weight="bold" font-size="14.66" fill="#0000ff">:</text>
<text transform="translate(598.70,592.30) scale(1.266,1)" font-family="Liberation Serif" font-weight="normal" font-size="14.93" fill="#0000ff">Φ</text>
<text transform="translate(602.10,584.54) scale(1.314,1)" font-family="Liberation Serif" font-weight="normal" font-size="10.88" fill="#0000ff">^</text>
<text transform="translate(612.01,586.25) scale(1.121,1)" font-family="Liberation Serif" font-weight="normal" font-size="11.20" fill="#0000ff" fill-opacity="0.80">*</text>
<text transform="translate(618.17,596.95) scale(1.387,1)" font-family="Liberation Serif" font-weight="bold" font-size="9.89" fill="#0000ff">3</text>
<text transform="translate(581.85,632.87) scale(1.270,1)" font-family="Liberation Serif" font-weight="bold" font-size="14.66" fill="#000">:</text>
<text transform="translate(601.10,632.90) scale(1.266,1)" font-family="Liberation Serif" font-weight="normal" font-size="14.93" fill="#000">Φ</text>
<text transform="translate(604.50,625.14) scale(1.314,1)" font-family="Liberation Serif" font-weight="normal" font-size="10.88" fill="#000">^</text>
<text transform="translate(614.41,626.85) scale(1.121,1)" font-family="Liberation Serif" font-weight="normal" font-size="11.20" fill="#000" fill-opacity="0.80">*</text>
<text transform="translate(621.30,637.74) scale(1.280,1)" font-family="Liberation Serif" font-weight="bold" font-size="10.04" fill="#000">Au</text>
<text transform="translate(581.85,664.37) scale(1.270,1)" font-family="Liberation Serif" font-weight="bold" font-size="14.66" fill="#ff0000">:</text>
<text transform="translate(601.10,664.40) scale(1.266,1)" font-family="Liberation Serif" font-weight="normal" font-size="14.93" fill="#ff0000">Φ</text>
<text transform="translate(604.50,656.64) scale(1.314,1)" font-family="Liberation Serif" font-weight="normal" font-size="10.88" fill="#ff0000">^</text>
<text transform="translate(614.41,658.35) scale(1.121,1)" font-family="Liberation Serif" font-weight="normal" font-size="11.20" fill="#ff0000" fill-opacity="0.80">*</text>
<text transform="translate(621.30,669.45) scale(1.248,1)" font-family="Liberation Serif" font-weight="bold" font-size="9.60" fill="#ff0000">Ad</text>
<text transform="translate(581.85,691.27) scale(1.270,1)" font-family="Liberation Serif" font-weight="bold" font-size="14.66" fill="#0000ff">:</text>
<text transform="translate(601.10,691.30) scale(1.266,1)" font-family="Liberation Serif" font-weight="normal" font-size="14.93" fill="#0000ff">Φ</text>
<text transform="translate(604.50,683.54) scale(1.314,1)" font-family="Liberation Serif" font-weight="normal" font-size="10.88" fill="#0000ff">^</text>
<text transform="translate(614.41,685.25) scale(1.121,1)" font-family="Liberation Serif" font-weight="normal" font-size="11.20" fill="#0000ff" fill-opacity="0.80">*</text>
<text transform="translate(621.30,696.14) scale(1.272,1)" font-family="Liberation Serif" font-weight="bold" font-size="10.04" fill="#0000ff">Ae</text>
</g>
</svg>
</body></html>
